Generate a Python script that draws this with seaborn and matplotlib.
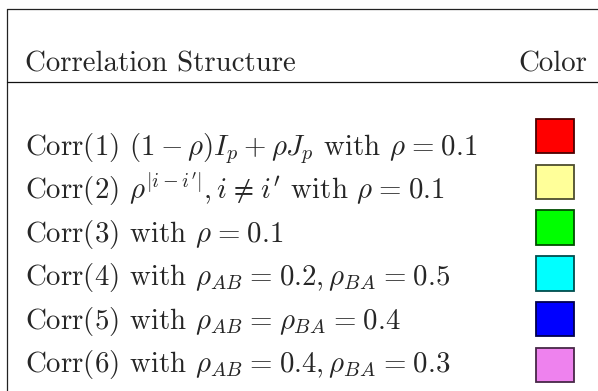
import numpy as np
import seaborn as sns
import matplotlib.pyplot as plt
from matplotlib.colors import to_rgb

labels = [
    r"Corr(1) $(1-\rho)I_p+\rho J_p$ with $\rho=0.1$",
    r"Corr(2) $\rho^{|i-i^{\prime}|}, i \neq i^{\prime}$ with $\rho=0.1$",
    r"Corr(3) with $\rho=0.1$",
    r"Corr(4) with $\rho_{AB}=0.2, \rho_{BA}=0.5$",
    r"Corr(5) with $\rho_{AB}=\rho_{BA}=0.4$",
    r"Corr(6) with $\rho_{AB}=0.4, \rho_{BA}=0.3$",
]
colors = ["#ff0000", "#ffff99", "#00ff00", "#00ffff", "#0000ff", "#ee82ee"]
header = ["Correlation Structure", "Color"]

sns.set_theme(style="white")
plt.rcParams["font.family"] = ["cmr10", "DejaVu Serif"]
plt.rcParams["mathtext.fontset"] = "cm"
plt.rcParams["axes.unicode_minus"] = False
plt.rcParams["axes.formatter.use_mathtext"] = True

fig = plt.figure(figsize=(5.98, 3.91), dpi=100)
ax = fig.add_axes([0, 0, 1, 1])
ax.set_xlim(0, 598)
ax.set_ylim(391, 0)
ax.axis("off")

fs = 20.8
# table rules
ax.plot([7, 7], [9, 391], color="#222222", lw=0.9)
ax.plot([7, 598], [9, 9], color="#222222", lw=0.9)
ax.plot([7, 598], [82, 82], color="#111111", lw=0.9)

ax.text(25, 72, header[0], fontsize=fs, va="baseline", ha="left")
ax.text(587, 72, header[1], fontsize=fs, va="baseline", ha="right")

# latex puts a bit more room around relations than mathtext does
sp = r"\hspace{0.08}"
rows = np.arange(len(labels))
for i, lab in enumerate(labels):
    lab = lab.replace("=", sp + "=" + sp).replace(r"\neq", sp + r"\neq" + sp)
    ax.text(25, 155 + i * 43.4, lab, fontsize=fs, va="baseline", ha="left")

edges = [tuple(c * 0.3 for c in to_rgb(col)) for col in colors]
ax.barh(136 + rows * 45.8, 38, left=536, height=34.5, color=colors,
        edgecolor=edges, linewidth=1.3)

fig.savefig("out.png", dpi=100)
